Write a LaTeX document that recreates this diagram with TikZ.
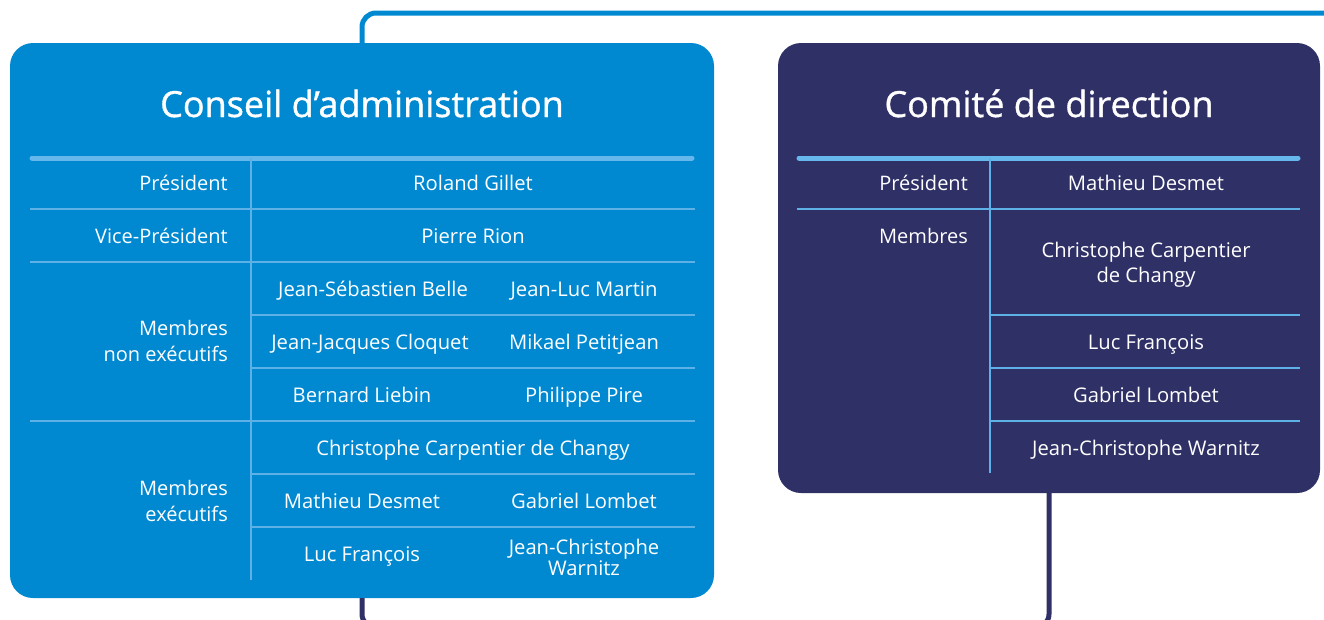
\documentclass[tikz,border=0pt]{standalone}
\usepackage{fontspec}
\setmainfont{Open Sans}
\newfontfamily\titlefont{Open Sans}[FakeBold=1.0]
\definecolor{cblue}{HTML}{0089D1}
\definecolor{cnavy}{HTML}{2F3066}
\definecolor{crule}{HTML}{66B7EB}
\definecolor{cthin}{HTML}{5DB1E7}
\begin{document}
\begin{tikzpicture}[x=1pt,y=-1pt,
  panel/.style={draw=none,rounded corners=23pt,inner sep=0pt,outer sep=0pt},
  titletext/.style={text=white,anchor=base,inner sep=0pt,font=\titlefont\fontsize{36}{40}\selectfont},
  lab/.style={text=white,anchor=base east,inner sep=0pt,align=right,font=\fontsize{20}{26}\selectfont},
  nm/.style={text=white,anchor=base,inner sep=0pt,align=center,font=\fontsize{20.2}{25}\selectfont},
  headrule/.style={draw=crule,line width=5pt,line cap=round},
  thinrule/.style={draw=cthin,line width=1.4pt},
  link/.style={line width=5pt,rounded corners=14pt}
]
\useasboundingbox (0,0) rectangle (1324,619);
\clip (0,0) rectangle (1324,619);

% panels
\node[panel,fill=cblue,minimum width=704pt,minimum height=555pt] (cab) at (362,320.5) {};
\node[panel,fill=cnavy,minimum width=542pt,minimum height=450pt] (cd) at (1049,268) {};

% connectors
\coordinate (topend) at (1340,13);
\coordinate (botmid) at (700,628);
\draw[link,draw=cblue] (cab.north) |- (topend);
\draw[link,draw=cnavy] (cab.south) |- (botmid) -| (cd.south);

% titles
\node[titletext] (t1) at (362,117) {Conseil d’administration};
\node[titletext] (t2) at (1049,117) {Comité de direction};

% left table rules
\draw[headrule] (32,158) -- (692,158);
\draw[thinrule] (251,158) -- (251,580);
\draw[thinrule] (30,209) -- (695,209);
\draw[thinrule] (30,262) -- (695,262);
\draw[thinrule] (251,315) -- (695,315);
\draw[thinrule] (251,368) -- (695,368);
\draw[thinrule] (30,421) -- (695,421);
\draw[thinrule] (251,474) -- (695,474);
\draw[thinrule] (251,527) -- (695,527);

% left table labels
\node[lab] (l1) at (228,190.5) {Président};
\node[lab] (l2) at (228,243.5) {Vice-Président};
\node[lab] (l3) at (228,361.5) {Membres\\non exécutifs};
\node[lab] (l4) at (228,521.5) {Membres\\exécutifs};

% left table names
\node[nm] (n1) at (473,190.5) {Roland Gillet};
\node[nm] (n2) at (473,243.5) {Pierre Rion};
\node[nm] (n3) at (373,296.5) {Jean-Sébastien Belle};
\node[nm] (n4) at (584,296.5) {Jean-Luc Martin};
\node[nm] (n5) at (370,349.5) {Jean-Jacques Cloquet};
\node[nm] (n6) at (584,349.5) {Mikael Petitjean};
\node[nm] (n7) at (362,402.5) {Bernard Liebin};
\node[nm] (n8) at (584,402.5) {Philippe Pire};
\node[nm] (n9) at (473,455.5) {Christophe Carpentier de Changy};
\node[nm] (n10) at (362,508.5) {Mathieu Desmet};
\node[nm] (n11) at (584,508.5) {Gabriel Lombet};
\node[nm] (n12) at (362,561.5) {Luc François};
\node[nm,font=\fontsize{20.2}{21}\selectfont] (n13) at (584,575.5) {Jean-Christophe\\Warnitz};

% right table rules
\draw[headrule] (799,158) -- (1298,158);
\draw[thinrule] (990,158) -- (990,473);
\draw[thinrule] (797,209) -- (1300,209);
\draw[thinrule] (990,315) -- (1300,315);
\draw[thinrule] (990,368) -- (1300,368);
\draw[thinrule] (990,421) -- (1300,421);

% right table text
\node[lab] (r1) at (968,190.5) {Président};
\node[lab] (r2) at (968,243.5) {Membres};
\node[nm] (m1) at (1146,190.5) {Mathieu Desmet};
\node[nm] (m2) at (1146,282.5) {Christophe Carpentier\\de Changy};
\node[nm] (m3) at (1146,349.5) {Luc François};
\node[nm] (m4) at (1146,402.5) {Gabriel Lombet};
\node[nm] (m5) at (1146,455.5) {Jean-Christophe Warnitz};
\end{tikzpicture}
\end{document}
